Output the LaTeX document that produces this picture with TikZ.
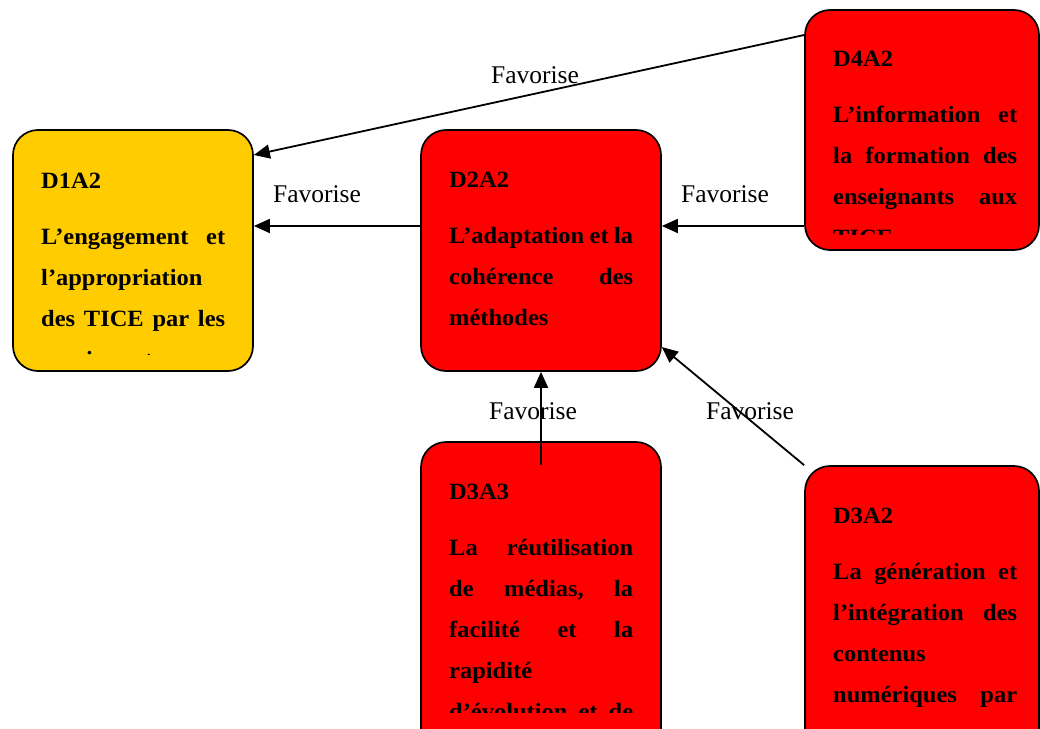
\documentclass[tikz,border=0pt]{standalone}
\usepackage{fontspec}
\setmainfont{Liberation Serif}
\newfontfamily\boxfont{Liberation Serif}[FakeStretch=1.05]
\usetikzlibrary{arrows.meta}
\definecolor{yellowbox}{HTML}{FFCC00}
\definecolor{redbox}{HTML}{FF0000}
\newcommand\jline[1]{\hbox to 184pt{#1}}
\newcommand\boxlines[2]{\vtop{\hsize=184pt\baselineskip=41pt\lineskiplimit=-100pt\lineskip=0pt
  \hbox{#1}\vskip 15pt #2}}
\tikzset{
  box/.style={draw=black, line width=1.7pt, rounded corners=25pt, inner sep=0pt},
  ybox/.style={box, fill=yellowbox},
  rbox/.style={box, fill=redbox},
  txt/.style={anchor=base west, inner sep=0pt, font=\boxfont\bfseries\fontsize{23.3}{23.3}\selectfont},
  lbl/.style={anchor=base, inner sep=0pt, font=\fontsize{25.5}{25.5}\selectfont},
  arr/.style={line width=1.8pt, -{Triangle[length=16pt,width=14pt]}},
}
\begin{document}
\begin{tikzpicture}[x=1pt,y=-1pt]
\useasboundingbox (0,0) rectangle (1040,728);
\clip (0,0) rectangle (1040,728);
% boxes
\node[ybox, minimum width=240pt, minimum height=241pt] (d1a2) at (133,250.5) {};
\node[rbox, minimum width=240pt, minimum height=241pt] (d2a2) at (541,250.5) {};
\node[rbox, minimum width=234pt, minimum height=240pt] (d4a2) at (922,130) {};
\node[rbox, minimum width=240pt, minimum height=328pt] (d3a3) at (541,606) {};
\node[rbox, minimum width=234pt, minimum height=304pt] (d3a2) at (922,618) {};
% texts
\begin{scope}
\clip (13,130) rectangle (253,354);
\node[txt] (t1) at (41,188) {\boxlines{D1A2}{%
  \jline{L’engagement\hfill et}
  \jline{l’appropriation\hfill}
  \jline{des\hfill TICE\hfill par\hfill les}
  \jline{enseignants\hfill}}};
\end{scope}
\node[txt] (t2) at (449,187) {\boxlines{D2A2}{%
  \jline{L’adaptation\hfill et\hfill la}
  \jline{cohérence\hfill des}
  \jline{méthodes\hfill}}};
\begin{scope}
\clip (805,10) rectangle (1039,234);
\node[txt] (t4) at (833,66) {\boxlines{D4A2}{%
  \jline{L’information\hfill et}
  \jline{la\hfill formation\hfill des}
  \jline{enseignants\hfill aux}
  \jline{TICE\hfill}}};
\end{scope}
\begin{scope}
\clip (421,442) rectangle (661,712);
\node[txt] (t33) at (449,499) {\boxlines{D3A3}{%
  \jline{La\hfill réutilisation}
  \jline{de\hfill médias,\hfill la}
  \jline{facilité\hfill et\hfill la}
  \jline{rapidité\hfill}
  \jline{d’évolution\hfill et\hfill de}}};
\end{scope}
\node[txt] (t32) at (833,523) {\boxlines{D3A2}{%
  \jline{La\hfill génération\hfill et}
  \jline{l’intégration\hfill des}
  \jline{contenus\hfill}
  \jline{numériques\hfill par}}};
% labels
\node[lbl] (l1) at (317,202) {Favorise};
\node[lbl] (l2) at (725,202) {Favorise};
\node[lbl] (l3) at (535,83) {Favorise};
\node[lbl] (l4) at (533,419) {Favorise};
\node[lbl] (l5) at (750,419) {Favorise};
% connectors
\draw[arr] ([yshift=24.5pt]d2a2.west) -- ([yshift=24.5pt]d1a2.east);
\draw[arr] ([yshift=-96pt]d4a2.west) -- ([yshift=24.5pt]d2a2.east);
\draw[arr] ([yshift=95pt]d4a2.west) -- ([yshift=95.5pt]d1a2.east);
\draw[arr] ([yshift=-24pt]d3a3.north) -- (d2a2.south);
\draw[arr] (d3a2.north west) -- ([yshift=-96.5pt]d2a2.east);
\end{tikzpicture}
\end{document}
